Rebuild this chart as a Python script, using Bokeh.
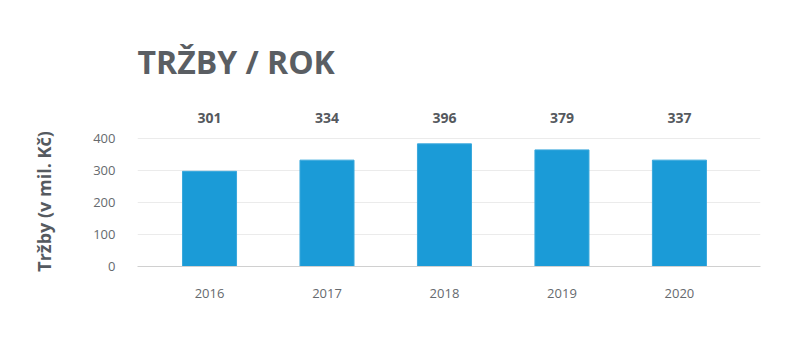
from bokeh.plotting import figure
from bokeh.models import Range1d, FixedTicker, LinearAxis
from bokeh.embed import file_html
from bokeh.resources import INLINE

years = ["2016", "2017", "2018", "2019", "2020"]
bar_values = [298, 333, 384, 365, 333]
label_values = ["301", "334", "396", "379", "337"]
y_ticks = [0, 100, 200, 300, 400]

FONT = "Open Sans"
xs = list(range(len(years)))

p = figure(width=800, height=354, output_backend="svg", toolbar_location=None,
           x_range=Range1d(-0.613, 4.69), y_range=Range1d(0, 407),
           min_border_left=137, min_border_right=40, min_border_top=136,
           min_border_bottom=88, title="TRŽBY / ROK")
p.outline_line_color = None
p.background_fill_color = "white"
p.border_fill_color = "white"

p.vbar(x=xs, top=bar_values, width=0.46, fill_color="#1b9bd7",
       line_color="#3aa8dc", line_width=1)

# value labels as a top axis
top_axis = LinearAxis(ticker=FixedTicker(ticks=xs),
                      major_label_overrides={i: v for i, v in enumerate(label_values)})
top_axis.axis_line_color = None
top_axis.major_tick_line_color = None
top_axis.minor_tick_line_color = None
top_axis.major_label_standoff = 8
top_axis.major_label_text_font = FONT
top_axis.major_label_text_font_size = "14px"
top_axis.major_label_text_font_style = "bold"
top_axis.major_label_text_color = "#55595e"
p.add_layout(top_axis, "above")

p.title.text_font = FONT
p.title.text_font_size = "32px"
p.title.text_font_style = "bold"
p.title.text_color = "#5a5e63"
p.title.align = "left"
p.title.vertical_align = "middle"
p.title.standoff = 52
p.title.offset = 0

p.xaxis[0].ticker = FixedTicker(ticks=xs)
bx = p.below[0]
bx.major_label_overrides = {i: y for i, y in enumerate(years)}
bx.major_tick_line_color = None
bx.minor_tick_line_color = None
bx.axis_line_color = "#d0d0d0"
bx.major_label_standoff = 16
bx.major_label_text_font = FONT
bx.major_label_text_font_size = "13px"
bx.major_label_text_color = "#666a6e"
p.xgrid.grid_line_color = None

p.yaxis.ticker = FixedTicker(ticks=y_ticks)
p.yaxis.axis_line_color = None
p.yaxis.major_tick_line_color = None
p.yaxis.minor_tick_line_color = None
p.yaxis.major_label_standoff = 16
p.yaxis.major_label_text_font = FONT
p.yaxis.major_label_text_font_size = "13px"
p.yaxis.major_label_text_color = "#666a6e"
p.yaxis.axis_label = "Tržby (v mil. Kč)"
p.yaxis.axis_label_text_font = FONT
p.yaxis.axis_label_text_font_size = "18px"
p.yaxis.axis_label_text_font_style = "bold"
p.yaxis.axis_label_text_color = "#555a60"
p.yaxis.axis_label_standoff = 34
p.ygrid.grid_line_color = "#ebebeb"
p.ygrid.grid_line_width = 1

open("out.html", "w").write(file_html(p, INLINE))
